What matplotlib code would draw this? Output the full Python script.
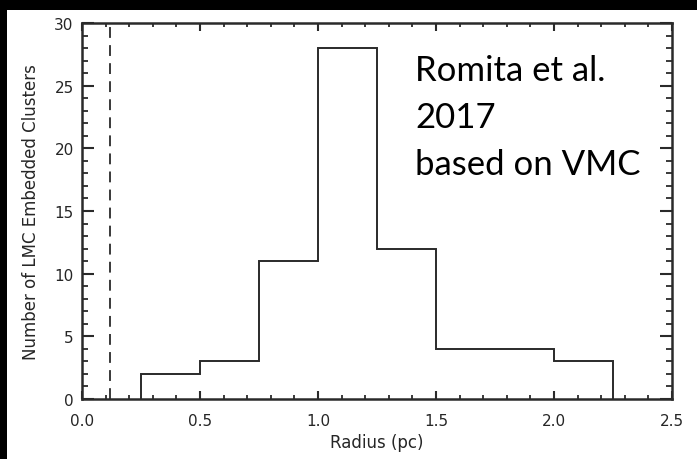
import matplotlib
matplotlib.use("Agg")
import matplotlib.pyplot as plt
from matplotlib.patches import Rectangle
from matplotlib.ticker import MultipleLocator

# Histogram of cluster radii
bin_edges = [0.25, 0.5, 0.75, 1.0, 1.25, 1.5, 1.75, 2.0, 2.25]
counts = [2, 3, 11, 28, 12, 4, 4, 3]
resolution_limit = 0.12

x_ticks = [0.0, 0.5, 1.0, 1.5, 2.0, 2.5]
x_tick_labels = ["0.0", "0.5", "1.0", "1.5", "2.0", "2.5"]
y_ticks = [0, 5, 10, 15, 20, 25, 30]

note_lines = ["Romita et al.", "2017", "based on VMC"]

ink = "#2a2a2a"
label_ink = "#262626"

fig = plt.figure(figsize=(6.97, 4.60), dpi=100, facecolor="white")
# dark frame strips along the top and left edges
fig.patches.append(Rectangle((0, 1 - 11 / 460), 1, 11 / 460,
                             transform=fig.transFigure, facecolor="black",
                             edgecolor="none"))
fig.patches.append(Rectangle((0, 0), 7 / 697, 1,
                             transform=fig.transFigure, facecolor="black",
                             edgecolor="none"))

ax = fig.add_axes([82 / 697, 1 - 400 / 460, 590 / 697, 376 / 460])
ax.set_facecolor("white")

ax.stairs(counts, bin_edges, baseline=0, color=ink, linewidth=1.4)
ax.axvline(resolution_limit, color=ink, linewidth=1.3, dashes=(6, 4))

ax.set_xlim(0, 2.5)
ax.set_ylim(0, 30)
ax.set_xticks(x_ticks)
ax.set_xticklabels(x_tick_labels)
ax.set_yticks(y_ticks)
ax.xaxis.set_minor_locator(MultipleLocator(0.1))
ax.yaxis.set_minor_locator(MultipleLocator(1))

for s in ax.spines.values():
    s.set_linewidth(1.8)
    s.set_color(ink)

ax.tick_params(which="both", direction="in", top=True, right=True,
               color=ink, labelcolor=label_ink, labelsize=11)
ax.tick_params(axis="x", which="major", length=5.5, width=1.5, pad=10)
ax.tick_params(axis="x", which="minor", length=2.8, width=1.3)
ax.tick_params(axis="y", which="major", length=8.5, width=1.5, pad=6)
ax.tick_params(axis="y", which="minor", length=4.0, width=1.3)

ax.set_xlabel("Radius (pc)", fontsize=12, color=label_ink, labelpad=4)
ax.set_ylabel("Number of LMC Embedded Clusters", fontsize=12,
              color=label_ink, labelpad=10)

# annotation, one line at a time on fixed baselines
for line, yb in zip(note_lines, [0.848, 0.723, 0.598]):
    ax.text(0.5644, yb, line, transform=ax.transAxes, ha="left",
            va="baseline", fontsize=25, family="Lato", color="black")

fig.savefig("out.png", dpi=100, facecolor=fig.get_facecolor())
